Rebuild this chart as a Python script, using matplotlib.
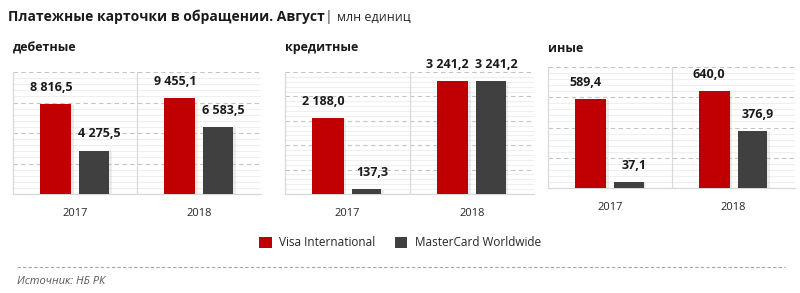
import matplotlib
matplotlib.use("Agg")
import matplotlib.pyplot as plt
from matplotlib.lines import Line2D
from matplotlib.patches import Patch
from matplotlib.ticker import MultipleLocator
import matplotlib.patheffects as pe

plt.rcParams['font.family'] = ['Open Sans', 'DejaVu Sans']

# Data: millions of payment cards in circulation (August)
years = ["2017", "2018"]
panel_titles = ["дебетные", "кредитные", "иные"]
visa = [[8816.5, 9455.1], [2188.0, 3241.2], [589.4, 640.0]]
mastercard = [[4275.5, 6583.5], [137.3, 3241.2], [37.1, 376.9]]
value_labels_visa = [["8 816,5", "9 455,1"], ["2 188,0", "3 241,2"], ["589,4", "640,0"]]
value_labels_mc = [["4 275,5", "6 583,5"], ["137,3", "3 241,2"], ["37,1", "376,9"]]
series_names = ["Visa International", "MasterCard Worldwide"]

RED = "#C00000"
DARK = "#404040"
W, H = 800, 293

fig = plt.figure(figsize=(W / 100, H / 100), dpi=100)

# axes layout in pixels: (left, top, right, bottom)
boxes = [(13, 72, 261, 194), (285, 72, 534, 194), (548, 67, 795, 188)]
ymax = [12000, 3500, 800]
major = [3000, 700, 200]
title_y = [48, 48, 48]

shadow = [pe.SimplePatchShadow(offset=(1.8, -0.6), shadow_rgbFace="#b0b0b0", alpha=0.22), pe.Normal()]

for i, (l, t, r, b) in enumerate(boxes):
    ax = fig.add_axes([l / W, 1 - b / H, (r - l) / W, (b - t) / H])
    x = [0.5, 1.5]
    xr = [v - 0.155 for v in x]
    xd = [v + 0.155 for v in x]
    bv = ax.bar(xr, visa[i], width=0.25, color=RED, zorder=3)
    bm = ax.bar(xd, mastercard[i], width=0.24, color=DARK, zorder=3)
    for p in list(bv) + list(bm):
        p.set_path_effects(shadow)
    for j in range(2):
        ax.annotate(value_labels_visa[i][j], (xr[j], visa[i][j]), xytext=(-3.5, 12),
                    textcoords="offset points", ha="center", va="center",
                    fontsize=9, fontweight="bold", color="#1a1a1a", zorder=5)
        ax.annotate(value_labels_mc[i][j], (xd[j], mastercard[i][j]), xytext=(4, 12),
                    textcoords="offset points", ha="center", va="center",
                    fontsize=9, fontweight="bold", color="#1a1a1a", zorder=5)
    ax.set_xlim(0, 2)
    ax.set_ylim(0, ymax[i])
    ax.yaxis.set_major_locator(MultipleLocator(major[i]))
    ax.yaxis.set_minor_locator(MultipleLocator(major[i] / 5))
    ax.grid(axis="y", which="major", color="#C4C4C4", linestyle=(0, (4, 3)), linewidth=0.8, zorder=1)
    ax.grid(axis="y", which="minor", color="#EFEFEF", linestyle="-", linewidth=0.8, zorder=0)
    ax.axvline(1.0, color="#D9D9D9", linewidth=0.9, zorder=2)
    ax.set_yticklabels([])
    ax.tick_params(axis="y", which="both", length=0)
    ax.set_xticks(x)
    ax.set_xticklabels(years, fontsize=8, color="#262626")
    ax.tick_params(axis="x", length=0, pad=10)
    for s in ("top", "right"):
        ax.spines[s].set_visible(False)
    for s in ("left", "bottom"):
        ax.spines[s].set_color("#D9D9D9")
        ax.spines[s].set_linewidth(0.9)
    fig.text(l / W, 1 - title_y[i] / H, panel_titles[i], fontsize=9, fontweight="bold",
             color="#1a1a1a", va="center", ha="left")

# Title
ttl = fig.text(8 / W, 1 - 17 / H, "Платежные карточки в обращении. Август", fontsize=10,
               fontweight="bold", color="#1a1a1a", va="center", ha="left")
unit = plt.annotate("| ", xy=(1, 0.5), xycoords=ttl, xytext=(0.5, 0), textcoords="offset points",
                    va="center", ha="left", fontsize=10, fontweight="bold", color="#7f7f7f",
                    annotation_clip=False)
plt.annotate("млн единиц", xy=(1, 0.5), xycoords=unit, va="center", ha="left", fontsize=9,
             color="#262626", annotation_clip=False)

# Legend
handles = [Patch(facecolor=RED, edgecolor="none"), Patch(facecolor=DARK, edgecolor="none")]
fig.legend(handles, series_names, loc="center", bbox_to_anchor=(0.5, 1 - 243 / H), ncol=2,
           frameon=False, fontsize=8.5, handlelength=1.1, handleheight=1.1, handletextpad=0.6,
           columnspacing=1.6, labelcolor="#262626")

# Footer separator and source
fig.add_artist(Line2D([17 / W, 785 / W], [1 - 267 / H, 1 - 267 / H], transform=fig.transFigure,
                      color="#A6A6A6", linewidth=0.8, linestyle=(0, (3, 2))))
fig.text(17 / W, 1 - 282 / H, "Источник: НБ РК", fontsize=8, style="italic", color="#595959",
         va="center", ha="left")

fig.savefig("out.png", dpi=100)
